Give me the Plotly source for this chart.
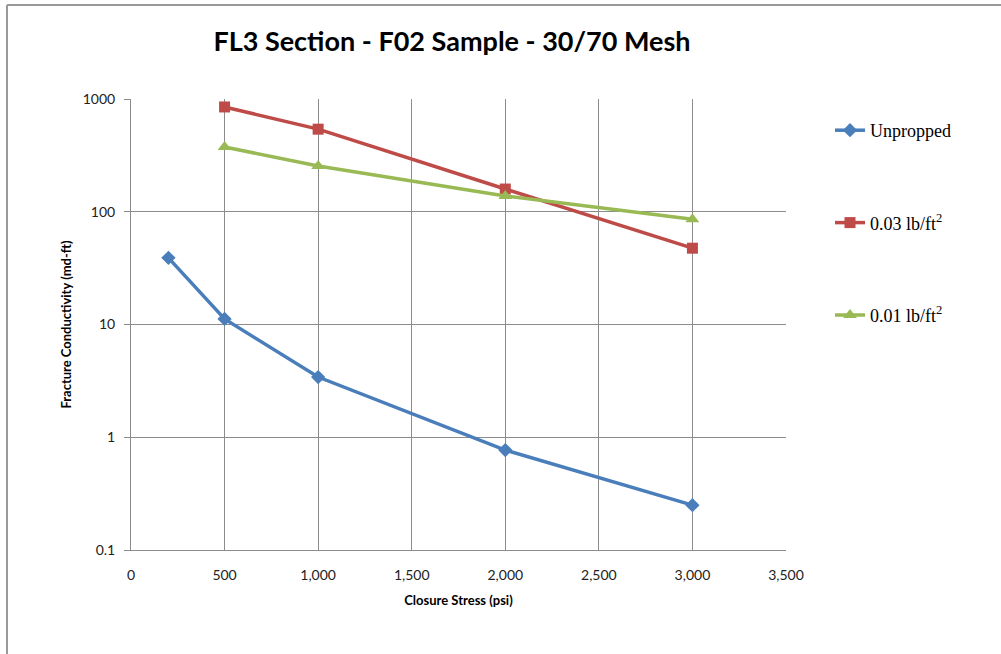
import plotly.graph_objects as go

stress = [200, 500, 1000, 2000, 3000]
unpropped = [39, 11.2, 3.42, 0.77, 0.25]
stress_p = [500, 1000, 2000, 3000]
prop_003 = [850, 540, 159, 47.5]
prop_001 = [375, 255, 138, 86]

x_ticks = [0, 500, 1000, 1500, 2000, 2500, 3000, 3500]
x_labels = ["0", "500", "1,000", "1,500", "2,000", "2,500", "3,000", "3,500"]
y_ticks = [0.1, 1, 10, 100, 1000]
y_labels = ["0.1", "1", "10", "100", "1000"]

fig = go.Figure()
fig.add_trace(go.Scatter(x=stress, y=unpropped, mode="lines+markers", name="Unpropped",
                         line=dict(color="#4A7EBB", width=3.5),
                         marker=dict(symbol="diamond", size=11, color="#4A7EBB"),
                         legendgroup="a"))
fig.add_trace(go.Scatter(x=stress_p, y=prop_003, mode="lines+markers", name="0.03 lb/ft<sup>2</sup>",
                         line=dict(color="#BE4B48", width=3.5),
                         marker=dict(symbol="square", size=11, color="#BE4B48"),
                         legendgroup="b"))
fig.add_trace(go.Scatter(x=stress_p, y=prop_001, mode="lines+markers", name="0.01 lb/ft<sup>2</sup>",
                         line=dict(color="#98B954", width=3.5),
                         marker=dict(symbol="triangle-up", size=12, color="#98B954"),
                         legendgroup="c"))

W, H = 1001, 654
L, R, T, B = 131, 215, 99, 104
pw, ph = W - L - R, H - T - B

def px(x):
    return (x - L) / pw

def py(y):
    return (H - B - y) / ph

fig.update_layout(
    width=W, height=H,
    margin=dict(l=L, r=R, t=T, b=B),
    paper_bgcolor="white", plot_bgcolor="white",
    title=dict(text="<b>FL3 Section - F02 Sample - 30/70 Mesh</b>",
               font=dict(family="Lato", size=27, color="black"),
               x=452 / W, xanchor="center", y=(H - 42) / H, yanchor="middle"),
    legend=dict(x=px(830), xanchor="left", y=py(112), yanchor="top",
                font=dict(family="Liberation Serif", size=18, color="black"),
                tracegroupgap=66, traceorder="grouped",
                itemwidth=30, bgcolor="rgba(0,0,0,0)"),
    xaxis=dict(range=[0, 3500], tickvals=x_ticks, ticktext=x_labels,
               showgrid=True, gridcolor="#8C8C8C", gridwidth=1,
               showline=True, linecolor="#8C8C8C", linewidth=1, mirror=False,
               ticks="", zeroline=False, ticklabelstandoff=12,
               tickfont=dict(family="Lato", size=14, color="#222"),
               title=dict(text="<b>Closure Stress (psi)</b>", font=dict(family="Lato", size=13, color="black"),
                          standoff=14)),
    yaxis=dict(type="log", range=[-1, 3], tickvals=y_ticks, ticktext=y_labels,
               showgrid=True, gridcolor="#8C8C8C", gridwidth=1,
               showline=True, linecolor="#8C8C8C", linewidth=1,
               ticks="outside", ticklen=6, tickcolor="#8C8C8C", ticklabelstandoff=6,
               tickfont=dict(family="Lato", size=14, color="#222"),
               title=dict(text="<b>Fracture Conductivity (md-ft)</b>", font=dict(family="Lato", size=13, color="black"),
                          standoff=8)),
    shapes=[
        dict(type="line", xref="paper", yref="paper", x0=px(7), x1=px(1010), y0=py(5), y1=py(5),
             line=dict(color="#999999", width=2)),
        dict(type="line", xref="paper", yref="paper", x0=px(7), x1=px(7), y0=py(5), y1=py(670),
             line=dict(color="#999999", width=2)),
    ],
)

fig.write_html("out.html")
